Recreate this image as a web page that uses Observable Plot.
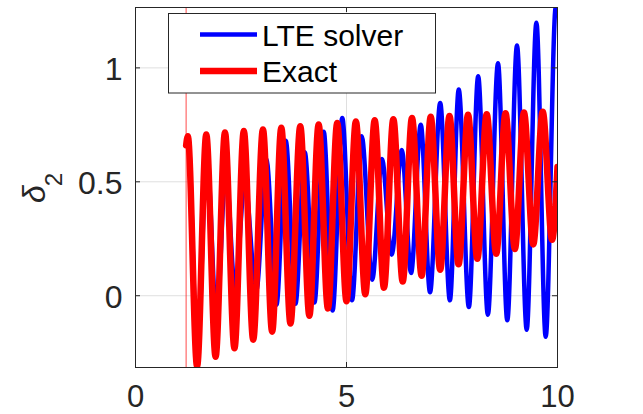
<!DOCTYPE html>
<html><head><meta charset="utf-8">
<script src="https://cdn.jsdelivr.net/npm/d3@7"></script>
<script src="https://cdn.jsdelivr.net/npm/@observablehq/plot@0.6"></script>
<style>
html,body{margin:0;padding:0;background:#fff;}
#chart{width:643px;height:414px;overflow:hidden;}
</style></head><body><div id="chart"></div>
<script>
// Exact solution: start, alternating peaks / troughs, end
const exactT = [1.2, 1.24, 1.46, 1.677, 1.898, 2.12, 2.345, 2.567, 2.789, 3.02, 3.238, 3.455, 3.672, 3.905, 4.12, 4.34, 4.56, 4.78, 5.0, 5.222, 5.445, 5.668, 5.888, 6.11, 6.332, 6.552, 6.78, 6.995, 7.22, 7.44, 7.655, 7.88, 8.1, 8.322, 8.548, 8.768, 8.99, 9.205, 9.425, 9.65, 9.872, 10.0];
const exactY = [0.66, 0.700, -0.31, 0.708, -0.268, 0.716, -0.231, 0.723, -0.193, 0.730, -0.158, 0.737, -0.122, 0.744, -0.088, 0.751, -0.056, 0.758, -0.024, 0.765, 0.007, 0.770, 0.035, 0.775, 0.062, 0.780, 0.088, 0.785, 0.114, 0.789, 0.138, 0.794, 0.162, 0.797, 0.184, 0.801, 0.205, 0.804, 0.225, 0.807, 0.246, 0.565];
// LTE solver
const lteT = [1.2, 1.245, 1.465, 1.69, 1.92, 2.14, 2.36, 2.59, 2.86, 3.1, 3.34, 3.56, 3.79, 4.01, 4.24, 4.46, 4.67, 4.90, 5.13, 5.36, 5.61, 5.84, 6.07, 6.31, 6.53, 6.76, 6.98, 7.22, 7.45, 7.66, 7.90, 8.12, 8.35, 8.59, 8.81, 9.04, 9.27, 9.50, 9.72, 9.96, 10.0];
const lteY = [0.66, 0.70, -0.26, 0.62, -0.10, 0.55, 0.03, 0.50, 0.02, 0.60, -0.04, 0.68, -0.035, 0.63, -0.03, 0.72, -0.065, 0.78, -0.02, 0.70, 0.07, 0.60, 0.18, 0.64, 0.10, 0.75, 0.015, 0.846, -0.02, 0.905, -0.05, 0.963, -0.083, 1.02, -0.108, 1.098, -0.149, 1.198, -0.18, 1.268, 1.25];
const startTime = [1.2];
const xTicks = [0, 5, 10];
const yTicks = [0, 0.5, 1];
const seriesNames = ["LTE solver", "Exact"];
const seriesColors = ["#0000ff", "#ff0000"];

const exact = exactT.map((t, i) => ({t, v: exactY[i]}));
const lte = lteT.map((t, i) => ({t, v: lteY[i]}));

const font = '"Liberation Sans", Arial, Helvetica, sans-serif';
const ink = "#262626";

const svg = Plot.plot({
  width: 643, height: 414,
  marginLeft: 135, marginRight: 86, marginTop: 7, marginBottom: 47,
  style: {fontFamily: font, background: "#fff", color: ink, overflow: "visible"},
  x: {domain: [0, 10], label: null},
  y: {domain: [-0.315, 1.265], label: null},
  marks: [
    Plot.gridX({ticks: [5], stroke: "#dfdfdf", strokeOpacity: 1}),
    Plot.gridY({ticks: yTicks, stroke: "#dfdfdf", strokeOpacity: 1}),
    Plot.ruleX(startTime, {stroke: "#ff0000", strokeOpacity: 0.55, strokeWidth: 1.3}),
    Plot.line(lte, {x: "t", y: "v", stroke: seriesColors[0], strokeWidth: 4.5, curve: "monotone-x", clip: true}),
    Plot.line(exact, {x: "t", y: "v", stroke: seriesColors[1], strokeWidth: 6.5, curve: "monotone-x", clip: true}),
    Plot.tickX(xTicks, {x: d => d, stroke: ink, insetTop: 355}),
    Plot.tickX(xTicks, {x: d => d, stroke: ink, insetBottom: 355}),
    Plot.tickY(yTicks, {y: d => d, stroke: ink, insetRight: 417}),
    Plot.tickY(yTicks, {y: d => d, stroke: ink, insetLeft: 417}),
    Plot.axisX({ticks: xTicks, anchor: "bottom", tickSize: 0, tickPadding: 17, fontSize: 31, tickFormat: d => String(d), label: null}),
    Plot.axisY({ticks: yTicks, anchor: "left", tickSize: 0, tickPadding: 13, fontSize: 32, dy: 2, tickFormat: d => String(d), label: null}),
    Plot.frame({stroke: ink, strokeWidth: 1})
  ]
});

const root = d3.select(svg);
// y-axis label  δ₂
const yl = root.append("text")
  .attr("transform", "translate(45,203) rotate(-90)")
  .attr("fill", ink).attr("font-family", font).attr("text-anchor", "start");
yl.append("tspan").attr("font-style", "italic").attr("font-size", 32).text("δ");
yl.append("tspan").attr("font-size", 24).attr("dy", 17).attr("dx", -1).text("2");

// legend
const lg = root.append("g");
lg.append("rect").attr("x", 168.5).attr("y", 13.5).attr("width", 267).attr("height", 79.5)
  .attr("fill", "#fff").attr("stroke", ink).attr("stroke-width", 1);
const rows = [{y: 34.5, w: 4.5}, {y: 71, w: 6.5}];
rows.forEach((r, i) => {
  lg.append("line").attr("x1", 200).attr("x2", 257).attr("y1", r.y).attr("y2", r.y)
    .attr("stroke", seriesColors[i]).attr("stroke-width", r.w);
  lg.append("text").attr("x", 262).attr("y", r.y + 11).attr("font-size", 30)
    .attr("text-anchor", "start")
    .attr("font-family", font).attr("fill", "#000").text(seriesNames[i]);
});

document.getElementById("chart").appendChild(svg);
</script></body></html>
